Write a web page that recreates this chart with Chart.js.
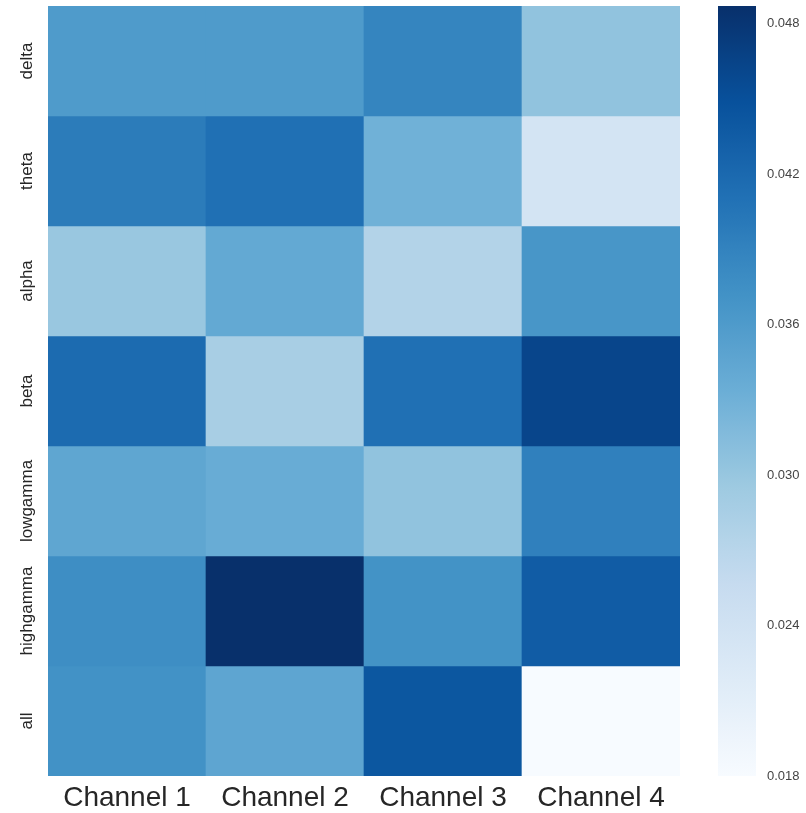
<!DOCTYPE html>
<html>
<head>
<meta charset="utf-8">
<script src="https://cdn.jsdelivr.net/npm/chart.js@4/dist/chart.umd.min.js"></script>
<style>
  html, body { margin: 0; padding: 0; background: #fff; }
  #wrap { position: relative; width: 806px; height: 813px; overflow: hidden; }
  #heat { position: absolute; left: 0; top: 0; }
  #cbar { position: absolute; left: 700px; top: 0; }
</style>
</head>
<body>
<div id="wrap">
  <canvas id="heat" width="700" height="813"></canvas>
  <canvas id="cbar" width="106" height="813"></canvas>
</div>
<script>
// Column and row labels
const channels = ['Channel 1', 'Channel 2', 'Channel 3', 'Channel 4'];
const bands = ['delta', 'theta', 'alpha', 'beta', 'lowgamma', 'highgamma', 'all'];

// One value per channel for each frequency band
const delta     = [0.0360, 0.0360, 0.0387, 0.0305];
const theta     = [0.0398, 0.0412, 0.0330, 0.0236];
const alpha     = [0.0299, 0.0341, 0.0275, 0.0366];
const beta      = [0.0418, 0.0286, 0.0412, 0.0462];
const lowgamma  = [0.0345, 0.0336, 0.0305, 0.0393];
const highgamma = [0.0376, 0.0487, 0.0371, 0.0435];
const all       = [0.0372, 0.0346, 0.0442, 0.0180];

// Colour bar tick labels
const colorbarTicks = [0.018, 0.024, 0.030, 0.036, 0.042, 0.048];

const bandValues = [delta, theta, alpha, beta, lowgamma, highgamma, all];
const flat = bandValues.flat();
const vmin = Math.min(...flat);
const vmax = Math.max(...flat);

// "Blues" sequential colour map
const BLUES = [
  [247, 251, 255], [222, 235, 247], [198, 219, 239], [158, 202, 225],
  [107, 174, 214], [66, 146, 198], [33, 113, 181], [8, 81, 156], [8, 48, 107]
];
function blues(t) {
  t = Math.max(0, Math.min(1, t));
  const p = t * (BLUES.length - 1);
  const i = Math.min(Math.floor(p), BLUES.length - 2);
  const f = p - i;
  const a = BLUES[i], b = BLUES[i + 1];
  const c = a.map((v, k) => Math.round(v + (b[k] - v) * f));
  return `rgb(${c[0]},${c[1]},${c[2]})`;
}
function colorFor(v) { return blues((v - vmin) / (vmax - vmin)); }

Chart.defaults.font.family = '"Liberation Sans", Arial, sans-serif';

// Vertical band names on the left, centred on each row
const rowLabels = {
  id: 'rowLabels',
  afterDraw(chart) {
    const ctx = chart.ctx;
    const y = chart.scales.y;
    ctx.save();
    ctx.font = '17px "Liberation Sans", Arial, sans-serif';
    ctx.fillStyle = '#262626';
    ctx.textAlign = 'center';
    ctx.textBaseline = 'middle';
    bands.forEach((name, i) => {
      const py = y.getPixelForValue(i + 0.5);
      ctx.save();
      ctx.translate(27, py);
      ctx.rotate(-Math.PI / 2);
      ctx.fillText(name, 0, 0);
      ctx.restore();
    });
    ctx.restore();
  }
};

// Heat map: each band is a stacked row of unit-height cells coloured by value
new Chart(document.getElementById('heat'), {
  type: 'bar',
  data: {
    labels: channels,
    datasets: bands.map((name, i) => ({
      label: name,
      data: channels.map(() => 1),
      backgroundColor: bandValues[i].map(colorFor),
      borderWidth: 0,
      categoryPercentage: 1,
      barPercentage: 1,
      stack: 'rows'
    }))
  },
  options: {
    responsive: false,
    animation: false,
    devicePixelRatio: 1,
    layout: { padding: { top: 6, right: 20, left: 0, bottom: 0 } },
    plugins: { legend: { display: false }, tooltip: { enabled: false } },
    scales: {
      x: {
        stacked: true,
        grid: { display: false, drawTicks: false },
        border: { display: false },
        ticks: { color: '#262626', font: { size: 28 }, padding: 5, maxRotation: 0 },
        afterFit(s) { s.height = 37; }
      },
      y: {
        stacked: true,
        reverse: true,
        min: 0,
        max: bands.length,
        grid: { display: false, drawTicks: false },
        border: { display: false },
        ticks: { display: false },
        afterFit(s) { s.width = 48; }
      }
    }
  },
  plugins: [rowLabels]
});

// Colour bar: one floating bar spanning the value range, filled with the map
const BLUES_MID = blues(0.5);
function barGradient(chart) {
  const area = chart.chartArea;
  if (!area) return BLUES_MID;
  const y = chart.scales.y;
  const g = chart.ctx.createLinearGradient(0, y.getPixelForValue(vmin), 0, y.getPixelForValue(vmax));
  for (let i = 0; i <= 32; i++) g.addColorStop(i / 32, blues(i / 32));
  return g;
}

new Chart(document.getElementById('cbar'), {
  type: 'bar',
  data: {
    labels: [''],
    datasets: [{
      data: [[vmin, vmax]],
      backgroundColor: ctx => barGradient(ctx.chart),
      borderWidth: 0,
      categoryPercentage: 1,
      barPercentage: 1
    }]
  },
  options: {
    responsive: false,
    animation: false,
    devicePixelRatio: 1,
    layout: { padding: { left: 18, top: 6, bottom: 37, right: 0 } },
    plugins: { legend: { display: false }, tooltip: { enabled: false } },
    scales: {
      x: { display: false },
      y: {
        position: 'right',
        min: vmin,
        max: vmax,
        grid: { display: false, drawTicks: false },
        border: { display: false },
        afterBuildTicks(s) { s.ticks = colorbarTicks.map(v => ({ value: v })); },
        ticks: { padding: 11, color: '#444444', font: { size: 13 }, callback: v => Number(v).toFixed(3) },
        afterFit(s) { s.width = 50; s.paddingTop = 0; s.paddingBottom = 0; }
      }
    }
  }
});
</script>
</body>
</html>
